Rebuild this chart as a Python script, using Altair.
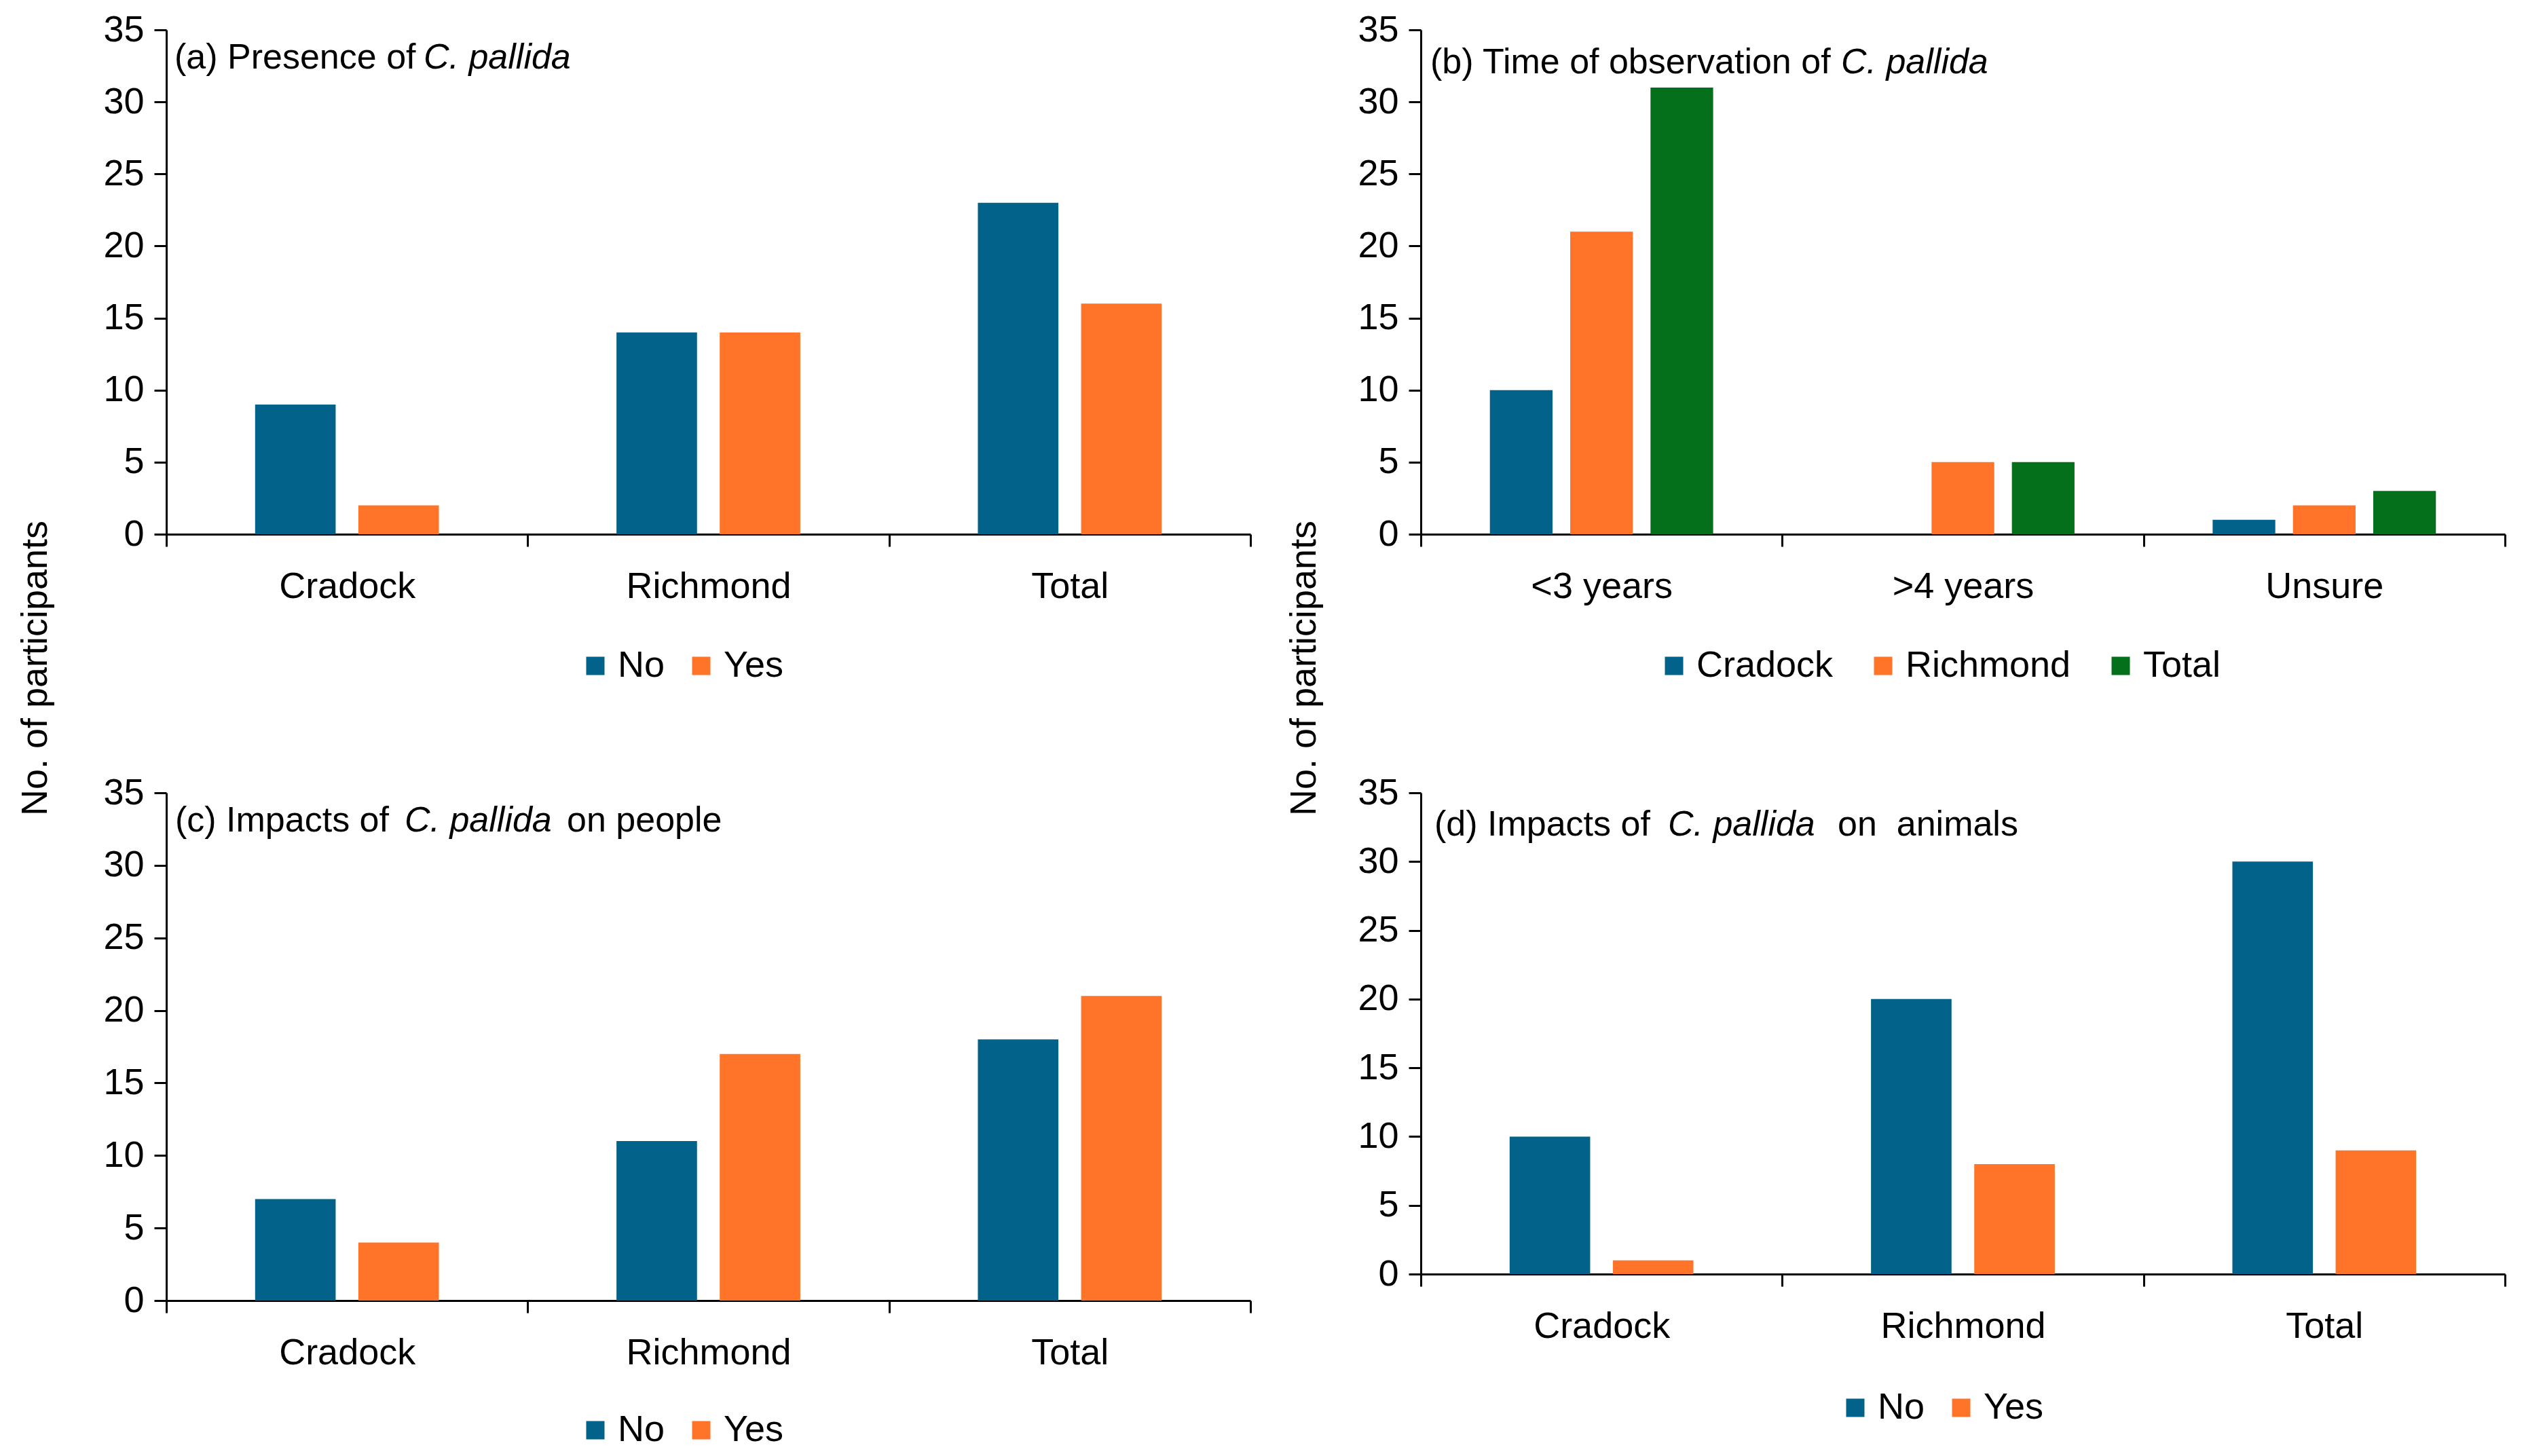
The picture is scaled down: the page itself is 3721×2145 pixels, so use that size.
import altair as alt
import pandas as pd

# ---------------- data ----------------
locations = ["Cradock", "Richmond", "Total"]
responses = ["No", "Yes"]

presence_no = [9, 14, 23]
presence_yes = [2, 14, 16]

time_cats = ["<3 years", ">4 years", "Unsure"]
time_series = ["Cradock", "Richmond", "Total"]
time_cradock = [10, 0, 1]
time_richmond = [21, 5, 2]
time_total = [31, 5, 3]

people_no = [7, 11, 18]
people_yes = [4, 17, 21]

animals_no = [10, 20, 30]
animals_yes = [1, 8, 9]

y_ticks = [0, 5, 10, 15, 20, 25, 30, 35]

BLUE = "#03628A"
ORANGE = "#FF7428"
GREEN = "#05701C"
FONT = "Liberation Sans"
FS = 54
TFS = 52


def long_df(cats, series_names, series_values):
    rows = []
    for s, vals in zip(series_names, series_values):
        for c, v in zip(cats, vals):
            rows.append({"cat": c, "series": s, "value": v})
    return pd.DataFrame(rows)


def text_layer(s, x, y, italic=False):
    return alt.Chart(pd.DataFrame({"t": [s]})).mark_text(
        align="left", baseline="middle", fontSize=TFS, font=FONT,
        fontStyle="italic" if italic else "normal", color="black"
    ).encode(text="t:N", x=alt.value(x), y=alt.value(y))


def panel(df, cats, series, colors, width, height, texts, legend_x, legend_y,
          col_pad, ytitle=None, ytitle_x=0, ytitle_y=0):
    yaxis_kwargs = dict(values=y_ticks, tickSize=18, labelPadding=15, grid=False)
    if ytitle:
        yaxis_kwargs.update(title=ytitle, titleX=ytitle_x, titleY=ytitle_y,
                            titleAngle=270, titleAlign="center", titleBaseline="middle",
                            titleFontSize=FS, titleFont=FONT, titleFontWeight="normal",
                            titleColor="black")
    else:
        yaxis_kwargs.update(title=None)
    bars = alt.Chart(df).mark_bar().encode(
        x=alt.X("cat:N", sort=cats,
                scale=alt.Scale(paddingInner=0, paddingOuter=0),
                axis=alt.Axis(title=None, tickBand="extent", tickSize=18,
                              labelPadding=32, labelAngle=0, labelLimit=2000)),
        xOffset=alt.XOffset("series:N", sort=series,
                            scale=alt.Scale(paddingInner=0.22, paddingOuter=0.86)),
        y=alt.Y("value:Q", scale=alt.Scale(domain=[0, 35], nice=False),
                axis=alt.Axis(**yaxis_kwargs)),
        color=alt.Color("series:N", sort=series,
                        scale=alt.Scale(domain=series, range=colors),
                        legend=alt.Legend(orient="none", legendX=legend_x, legendY=legend_y,
                                          direction="horizontal", title=None,
                                          symbolType="square", symbolSize=729,
                                          symbolStrokeWidth=0, labelFontSize=FS,
                                          labelFont=FONT, labelColor="black",
                                          labelLimit=2000,
                                          labelOffset=6, columnPadding=col_pad)),
    )
    layers = [bars] + [text_layer(*t) for t in texts]
    return alt.layer(*layers).properties(width=width, height=height)


W = 1597

df_a = long_df(locations, responses, [presence_no, presence_yes])
df_b = long_df(time_cats, time_series, [time_cradock, time_richmond, time_total])
df_c = long_df(locations, responses, [people_no, people_yes])
df_d = long_df(locations, responses, [animals_no, animals_yes])

pa = panel(df_a, locations, responses, [BLUE, ORANGE], W, 743,
           [("(a) Presence of", 12, 41), ("C. pallida", 379, 41, True)],
           605, 910, 26, ytitle="No. of participants", ytitle_x=-193, ytitle_y=940)
pb = panel(df_b, time_cats, time_series, [BLUE, ORANGE, GREEN], W, 743,
           [("(b) Time of observation of", 14, 48), ("C. pallida", 619, 48, True)],
           346, 910, 46, ytitle="No. of participants", ytitle_x=-172, ytitle_y=940)
pc = panel(df_c, locations, responses, [BLUE, ORANGE], W, 748,
           [("(c) Impacts of", 13, 41), ("C. pallida", 351, 41, True),
            ("on people", 590, 41)],
           605, 912, 26)
pd_ = panel(df_d, locations, responses, [BLUE, ORANGE], W, 709,
            [("(d) Impacts of", 20, 47), ("C. pallida", 364, 47, True),
             ("on\u00a0\u00a0animals", 614, 47)],
            613, 879, 26)

chart = alt.concat(pa, pb, pc, pd_, columns=2, spacing={"row": 381, "column": 251},
                   bounds="flush").resolve_scale(
    color="independent", x="independent", y="independent", xOffset="independent"
).properties(
    padding={"left": 17, "top": 9, "right": 5, "bottom": 5},
    background="white",
).configure_view(stroke=None).configure_axis(
    domainColor="black", domainWidth=3, tickColor="black", tickWidth=3,
    labelFont=FONT, labelFontSize=FS, labelColor="black", grid=False,
).configure_legend(padding=0)

chart.save("out.html", embed_options={"renderer": "svg", "actions": False})
